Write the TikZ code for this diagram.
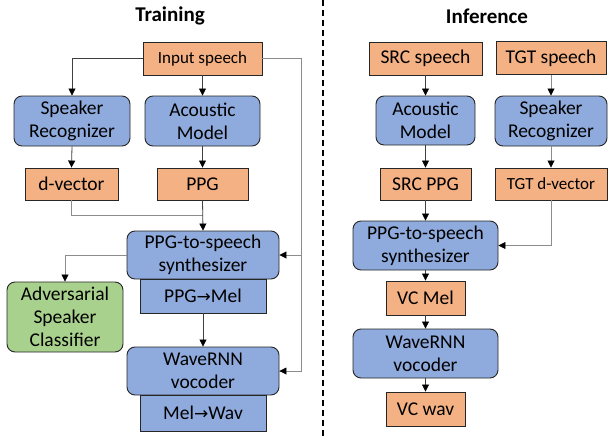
\documentclass[tikz,border=0pt]{standalone}
\usepackage{fontspec}
\setmainfont{Carlito}
\newfontfamily\arrfont{DejaVu Sans}
\usetikzlibrary{arrows.meta}
\definecolor{orng}{HTML}{F4B183}
\definecolor{blu}{HTML}{8FAADC}
\definecolor{grn}{HTML}{A9D18E}
\tikzset{
  base/.style={draw=black!85, line width=0.9pt, inner sep=0pt, align=center, font=\fontsize{19.5}{23}\selectfont},
  obox/.style={base, fill=orng},
  bbox/.style={base, fill=blu},
  rbox/.style={base, fill=blu, rounded corners=8pt},
  gbox/.style={base, fill=grn, rounded corners=8pt},
  conn/.style={line width=0.8pt, draw=black!75},
  gconn/.style={line width=0.8pt, draw=black!45},
  arr/.style={-{Triangle[length=7pt,width=7pt,color=black]}},
  ttl/.style={font=\fontsize{21}{24}\selectfont\bfseries}
}
\newcommand{\bx}[7]{\node[#1, minimum width=#5pt, minimum height=#6pt] (#2) at (#3,#4) {#7};}
\newcommand{\ar}{{\arrfont\fontsize{17}{20}\selectfont →}}
\begin{document}
\begin{tikzpicture}[x=1pt,y=-1pt]
\useasboundingbox (0,0) rectangle (608,439);
\node[ttl] (t1) at (170,16) {Training};
\node[ttl] (t2) at (487,16) {Inference};
\draw[line width=1.4pt, dash pattern=on 6pt off 4pt] (323,0) coordinate (d1) -- (323,439) coordinate (d2);
% training
\bx{obox}{in}{202.5}{58.5}{119}{33}{\fontsize{17}{20}\selectfont Input speech}
\bx{rbox}{sr}{72}{121}{116}{50}{Speaker\\Recognizer}
\bx{rbox}{am}{202.5}{121}{115}{50}{Acoustic\\Model}
\bx{obox}{dv}{71.5}{184}{93}{32}{d-vector}
\bx{obox}{ppg}{202.5}{184}{91}{32}{PPG}
\bx{rbox}{syn}{203}{255}{152}{48}{PPG-to-speech\\synthesizer}
\bx{bbox}{pm}{203}{296}{126}{34}{PPG\ar Mel}
\bx{gbox}{adv}{65}{317}{116}{70}{Adversarial\\Speaker\\Classifier}
\bx{rbox}{wr}{203}{371}{152}{48}{WaveRNN\\vocoder}
\bx{bbox}{mw}{203}{413}{126}{36}{Mel\ar Wav}
\draw[conn,arr] (in.west) -| (sr.north);
\draw[conn,arr] (in.south) -- (am.north);
\coordinate (r1) at (301,58.5);
\draw[gconn] (in.east) -- (r1) |- (wr.east);
\draw[gconn,arr] (r1 |- syn.east) -- (syn.east);
\draw[gconn,arr] (r1 |- wr.east) -- (wr.east);
\draw[conn,arr] (sr.south) -- (dv.north);
\draw[conn,arr] (am.south) -- (ppg.north);
\coordinate (j) at (202.5,215);
\draw[gconn] (dv.south) |- (j);
\draw[conn,arr] (ppg.south) -- (syn.north);
\draw[gconn,arr] (syn.west) -| (adv.north);
\draw[conn,arr] (pm.south) -- (wr.north);
% inference
\bx{obox}{src}{425.5}{58.5}{113}{33}{SRC speech}
\bx{obox}{tgt}{551}{58}{110}{33}{TGT speech}
\bx{rbox}{am2}{425.5}{120.5}{99}{49}{Acoustic\\Model}
\bx{rbox}{sr2}{551}{121}{112}{50}{Speaker\\Recognizer}
\bx{obox}{sppg}{425.5}{184}{91}{32}{SRC PPG}
\bx{obox}{tdv}{551}{184}{112}{32}{\fontsize{17}{20}\selectfont TGT d-vector}
\bx{rbox}{syn2}{425.5}{245.5}{145}{49}{PPG-to-speech\\synthesizer}
\bx{obox}{vcm}{425.5}{298}{79}{34}{VC Mel}
\bx{rbox}{wr2}{425.5}{353.5}{145}{49}{WaveRNN\\vocoder}
\bx{obox}{vcw}{425.5}{409}{79}{34}{VC wav}
\draw[conn,arr] (src.south) -- (am2.north);
\draw[conn,arr] (am2.south) -- (sppg.north);
\draw[conn,arr] (sppg.south) -- (syn2.north);
\draw[gconn,arr] (tgt.south) -- (sr2.north);
\draw[gconn,arr] (sr2.south) -- (tdv.north);
\draw[gconn,arr] (tdv.south) |- (syn2.east);
\draw[conn,arr] (syn2.south) -- (vcm.north);
\draw[conn,arr] (vcm.south) -- (wr2.north);
\draw[conn,arr] (wr2.south) -- (vcw.north);
\end{tikzpicture}
\end{document}
